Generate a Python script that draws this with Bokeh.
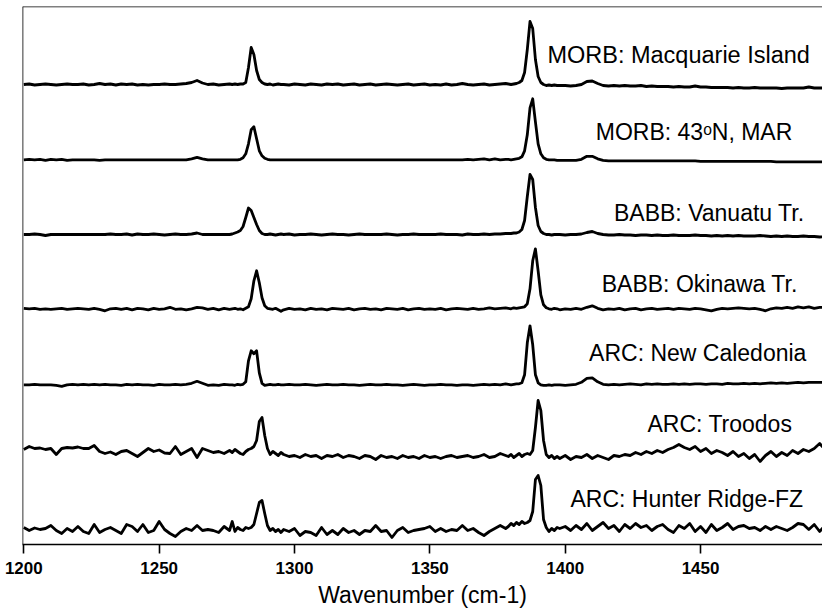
import numpy as np
from bokeh.plotting import figure
from bokeh.models import Range1d, FixedTicker, Span
from bokeh.core.properties import value
from bokeh.embed import file_html
from bokeh.resources import INLINE

# ---------------- data ----------------
# wavenumber sampling (cm-1): 2 cm-1 steps, 1 cm-1 steps across the two Fermi-diad bands
wavenumber = (list(range(1200, 1277, 2)) + list(range(1277, 1296)) + list(range(1296, 1379, 2))
              + list(range(1379, 1398)) + list(range(1398, 1497, 2)))

samples = ["MORB: Macquarie Island", "MORB: 43\u1d52N, MAR", "BABB: Vanuatu Tr.",
           "BABB: Okinawa Tr.", "ARC: New Caledonia", "ARC: Troodos", "ARC: Hunter Ridge-FZ"]

# stacking offsets of the spectra (intensity units)
offsets = [460, 384.7, 310, 235.7, 159.7, 92, 15]

macquarie = ([0, 0.5, -0.5, 0, 0.5, 0, -0.5, 0, 0.5, 0, 0, 0.5, -0.5, 0, 1, 0, 0.5, -0.5, 0.5, 0,
              0.5, -0.5, 0, -0.5, 0, 0, 0.5, 0, 0, 0.5, 1, 2, 4, 1.5, 0, 0.5, -0.5, 0, 0.5]
             + [0, 0.5, 0, 0.5, 0.5, 2, 17, 37, 30, 14, 5, 2, 0.5, 0, 0.5, -0.5, 0, 0.5, 0]
             + [0, -0.5, 0.5, 0, -0.5, 0.5, 0, -0.5, 0.5, 0, 0.5, -0.5, 0, 0.5, -0.5, 0, 0.5, -0.5, 0, 0.5,
                0, -0.5, 0, 0.5, -0.5, 0, 0.5, -0.5, 0, -0.5, 0.5, -0.5, 0, 1, 0, -0.5, 0, 0.5, -0.5, 0,
                0.5, 1]
             + [0.5, 0, 0.5, 1, 2, 4, 12, 35, 63, 56, 25, 8, 2, 0, -1, -0.5, -1, -0.5, -1]
             + [-1, -1, -1.5, -1, 0, 3, 3.5, 1, -1, -1.5, -1, -1.5, -1, -1.5, -1.5, -1, -2, -1.5, -2, -2,
                -2, -2.5, -2, -2.5, -2.5, -1.5, -2.5, -2.5, -3, -3, -3, -3, -3.5, -3, -3.5, -3.5, -3, -3.5,
                -3.5, -3.5, -3.5, -4, -3.5, -3.5, -3.5, -3.5, -2.5, -3.5, -3.5, -3.5])

mar_43n = ([0, 0.5, 0, 0.5, -0.5, 0.5, 0, 0.5, -0.5, 0, 0, 0, 0, 0, -0.5, 0, 0, 0, 0, 0,
            0, 0, 0, 0, 0, 0, 0, 0, 0, 0, 0, 1, 2.5, 1, 0, 0, 0, 0, 0]
           + [0, 0, 0, 0.5, 2, 6, 16, 30, 33, 21, 9, 4, 1.5, 0.5, 0, 0, 0, 0, 0]
           + [0, 0, 0, 0, 0, 0, 0, 0, 0, 0, 0, 0, 0, 0, 0, 0, 0, 0, 0, 0,
              0, 0, 0, 0, 0, 0, 0, 0, 0, 0, 0, 0, 0, 0, 0.5, 0, 0.5, 1, 0, 1,
              0, 0.5]
           + [0.5, 0, 0.5, 1, 1.5, 3, 9, 25, 52, 61, 38, 16, 6, 2, 0.5, 0, 0, 0, -0.5]
           + [-0.5, -0.5, -0.5, -0.5, 0.5, 3.5, 3.5, 1, -0.5, -1, -1, -1, -1, -1, -1, -1, -1, -1, -1, -1,
              -1, -1, -1, -1, -1, -1, -1.5, -1.5, -1.5, -1.5, -1.5, -1.5, -1.5, -1.5, -1.5, -1.5, -1.5,
              -1.5, -1.5, -1.5, -2, -2, -2, -2, -2, -2, -2, -2, -2, -2])

vanuatu = ([0, 0, 0.5, 0, -1, 0, 0, 0, 0, 0, 0, 0, 0, 0, 0, 0, 0.5, 0, 0, 0.5,
            -0.5, 0.5, 0, 0, 0.5, 0, -0.5, 0, 0.5, 0, 0, 0.5, 1.5, 0, 0, 0, 0, 0, 0]
           + [0.5, 1.5, 2.5, 4, 8, 17, 26.5, 24, 17, 10, 4, 1, 0, 0, 0.5, 0, -0.5, 0, 0.5]
           + [0, 0.5, -0.5, 0, 0, 0.5, 0, -0.5, 0, 0.5, 0, 0, -0.5, 0, 0.5, 0, 0, 0, 0, 0.5,
              0, -0.5, 0, 0, 0.5, 0, 0, 0, 0, 0.5, 0, 0, 0, -0.5, 0.5, 0, 0, 0.5, 0, 0.5,
              0.5, 1]
           + [1, 1, 1.5, 1.5, 2.5, 5, 14, 38, 60, 55, 27, 9, 3, 1, 0, 0, -0.5, 0, 0]
           + [0, -0.5, 0, 0, 0.5, 2, 3, 1, 0, -0.5, -0.5, 0, -0.5, -0.5, -1, -0.5, -0.5, -1, -0.5, -1,
              -1, -0.5, -1, -1, -1, -0.5, -1, -1, -1.5, -1, -1.5, -1, -1.5, -1, -1.5, -1.5, -1.5, -1,
              -1.5, -2, -1.5, -2, -1.5, -2, -2, -1.5, -2, -2, -2.5, -2])

okinawa = ([0.5, 0, 0.5, -0.5, 0, -0.5, 0, 0.5, -0.5, 0, 0.5, 0, -0.5, 0.5, -0.5, -2, 0, 0.5, -0.5, 0.5,
            -1, 0.5, 0, -1, 0.5, -0.5, 0, 1.5, -0.5, 0, -1, 0, 1.5, 1, -0.5, 0.5, -1, 0.5, -0.5]
           + [0, 0.5, -0.5, 0, -1, 0.5, 2, 10, 28, 38, 26, 11, 3, 0.5, 0, -0.5, 0.5, -1, -2.5]
           + [-1, 0.5, -0.5, 0, -1, 0.5, -0.5, 0, -1, 0.5, 0, -0.5, 0.5, -1, 0, 0.5, -0.5, 0, -1, 0.5,
              0, -0.5, 0.5, -1, 0, 0.5, -0.5, 0, -0.5, 0.5, -1, 0, 0.5, 0, -0.5, 0.5, -0.5, 0, 1, 0,
              0.5, 1]
           + [0.5, 0, 1, 0.5, 1, 1.5, 2, 5, 20, 48, 60, 38, 14, 4, 1, 0, -0.5, 0.5, 0]
           + [-1, 0, -0.5, 0.5, -0.5, 1.5, 3, 0.5, -1, 0, -0.5, 0.5, -1, 0, 0.5, -1, 0, 0.5, -0.5, 0,
              0.5, -0.5, 0.5, 0, -0.5, 0.5, 0, -1, -2, -0.5, 0.5, 0, 0.5, 1, 0.5, 0, 0.5, -0.5, -2, 0,
              1, 0.5, 1.5, 0.5, 2, 1, 2, 0.5, 1.5, 1.5])

new_caledonia = ([0, 0, 0.5, 0, 0, 0, -0.5, -1.5, 0, 0.5, 0, 0.5, 0, 0.5, 0, 0.5, 0, 0, -0.5, 0.5,
                  0, 0.5, 0, 0, -0.5, 0.5, 0, 0, 0.5, 0, 0.5, 1.5, 3.5, 1.5, -0.5, 0, -0.5, 0.5, 0]
                 + [0, -0.5, 0.5, 0, 0.5, 3, 24, 34, 31, 34, 12, 1.5, -0.5, 0, 0.5, 0, 0, 0.5, 0]
                 + [0, 0.5, 0, 0, 0.5, 0, -0.5, 0, 0.5, 0, 0, 0.5, 0, 0, -0.5, 0, 0.5, 0, 0, 0.5,
                    0, 0, -0.5, 0, 0.5, 0, -0.5, 0, 0, 0.5, 0, 0, -0.5, 0, 0, -0.5, 0, 0.5, 0, 0.5,
                    0, 1]
                 + [0.5, 0, 0.5, 1, 1, 2, 10, 42, 59, 40, 10, 2, 0, -0.5, -0.5, 0, -0.5, 0, 0]
                 + [0, -0.5, 0, 0.5, 2.5, 6.5, 7, 3, 0.5, 0, 0.5, 0, 0.5, 1, 0.5, 0, 1, 0.5, 1, 0.5,
                    0.5, 1, 0.5, 1, 0.5, 1, 1, 0.5, 1, 1, 0.5, 1.5, 1, 1, 1.5, 1, 1.5, 1, 1.5, 2,
                    1.5, 2, 1.5, 2, 2.5, 2, 2.5, 2.5, 2.5, 2.5])

troodos = ([3, 6, 4, 4.5, 3, 4, -2, 4, 5, 4.5, 5.5, 4, 4, 7, 1, -1, 0.5, -2, 1, 2,
            -1, -4, 0, 4, 1, 2.5, -0.5, -1, 6, -2, 1, 4, -5, 4, 2, 0, 1, -1, 2]
           + [0, 3, 1, -1, -2, 1, 3, 4, 6, 12, 31, 35, 17, 4, -2, 1, -1, -3, 0]
           + [-2, -4, -3, -5, -2, -4, -3, -6, -3, -4, -2, -5, -3, -4, -6, -3, -4, -7, -3, -5,
              -4, -6, -3, -5, -4, -6, -3, -5, -4, -6, -4, -3, -5, -4, -3, -5, -4, -2, -5, -4,
              -1, -3]
           + [-4, -2, -5, -3, -1, -4, -2, -1, -2, 2, 25, 52, 42, 12, -2, -5, -3, -6, -4]
           + [-6, -3, -7, -4, -5, -2, -6, -3, -5, -7, -3, -4, -2, -3, 0, -2, 1, -1, 2, 0,
              3, 5, 8, 5, 3, 6, 1, 4, -1, 2, 0, -3, 1, -4, -1, -6, -2, -9, -3, 1,
              -4, 0, -3, 2, -1, 3, 1, 4, 9, 3])

hunter = ([2, -1, 1.5, 0, 1, 4, -1, -4, 1, -2, 3, -2, -4, 5, -3, 0, 2, -1, -4, 5,
           3, -2, 5, -3, -1, 8, 0, -4, -7, -2, 1, -1, 4, -1, 0, -1, -3, 3, -1]
          + [8, -2, 2, 0, -1, 2, 1, 2, 5, 16, 27, 29, 16, 4, -1, 1, -2, 0, -3]
          + [0, -2, 1, -6, -2, -3, -6, 2, -5, -1, -5, 1, -3, -1, -5, -1, -2, 4, -2, -1,
             -8, -1, 2, -3, -1, 0, 1, 3, -2, 1, -2, 0, -1, 4, -1, 1, -3, -6, -2, 1,
             4, 1]
          + [3, 6, 4, 7, 5, 8, 6, 7, 9, 18, 50, 54, 44, 10, 2, -2, 1, -1, 2]
          + [1, 3, -1, 4, 0, 6, -1, 3, 7, 1, 4, -2, 5, 1, 6, 2, 4, -1, 3, 5,
             0, -3, 4, 1, 6, -2, 3, -3, 5, -1, 2, 6, 0, 3, 4, 1, 2, -1, 3, 0,
             3, 1, -1, 2, 6, 5, 0, 5, -2, 4])

spectra = [macquarie, mar_43n, vanuatu, okinawa, new_caledonia, troodos, hunter]

tick_values = [1200, 1250, 1300, 1350, 1400, 1450]
tick_labels = ["1200", "1250", "1300", "1350", "1400", "1450"]
x_title = "Wavenumber (cm-1)"

# label anchors (right end, wavenumber) and height of the label centre above each baseline
label_x = [1490.4, 1483.9, 1488.4, 1485.9, 1489.1, 1483.9, 1487.9]
label_dy = [30, 27.7, 22, 25.2, 31.5, 29, 31]

for s in spectra:
    assert len(s) == len(wavenumber), (len(s), len(wavenumber))

# ---------------- figure ----------------
x0 = 1199.52
x1 = x0 + 800 / 2.707
p = figure(width=822, height=611, output_backend="svg", toolbar_location=None,
           x_range=Range1d(x0, x1), y_range=Range1d(0, 538),
           min_border_left=22, min_border_right=0, min_border_top=6, min_border_bottom=67)
p.outline_line_color = None
p.background_fill_color = "white"
p.border_fill_color = "white"
p.xgrid.visible = False
p.ygrid.visible = False
p.yaxis.visible = False

ax = p.xaxis[0]
ax.ticker = FixedTicker(ticks=tick_values)
ax.major_label_overrides = {v: t for v, t in zip(tick_values, tick_labels)}
ax.major_tick_out = 9
ax.major_tick_in = 0
ax.minor_tick_line_color = None
ax.axis_line_width = 1.6
ax.major_tick_line_width = 1.6
ax.axis_line_color = "black"
ax.major_tick_line_color = "black"
ax.major_label_text_font = "Liberation Sans"
ax.major_label_text_font_size = "17px"
ax.major_label_text_font_style = "bold"
ax.major_label_text_color = "black"
ax.major_label_standoff = 8
ax.axis_label = x_title
ax.axis_label_text_font = "Liberation Sans"
ax.axis_label_text_font_size = "23px"
ax.axis_label_text_font_style = "normal"
ax.axis_label_text_color = "black"
ax.axis_label_standoff = 5

p.add_layout(Span(location=538, dimension="width", line_color="black", line_width=1.6))
p.add_layout(Span(location=x0, dimension="height", line_color="black", line_width=1.6))

wn = np.array(wavenumber, dtype=float)
for spec, off in zip(spectra, offsets):
    p.line(wn, np.array(spec, dtype=float) + off, line_color="black", line_width=2.8,
           line_join="round")

for i, (name, lx, dy, off) in enumerate(zip(samples, label_x, label_dy, offsets)):
    size = "23.5px" if i == 0 else "23px"
    p.text(x=[lx], y=[off + dy], text=[name], text_font=value("Liberation Sans"),
           text_font_size=size, text_align="right", text_baseline="middle", text_color="black")

open("out.html", "w").write(file_html(p, INLINE))
